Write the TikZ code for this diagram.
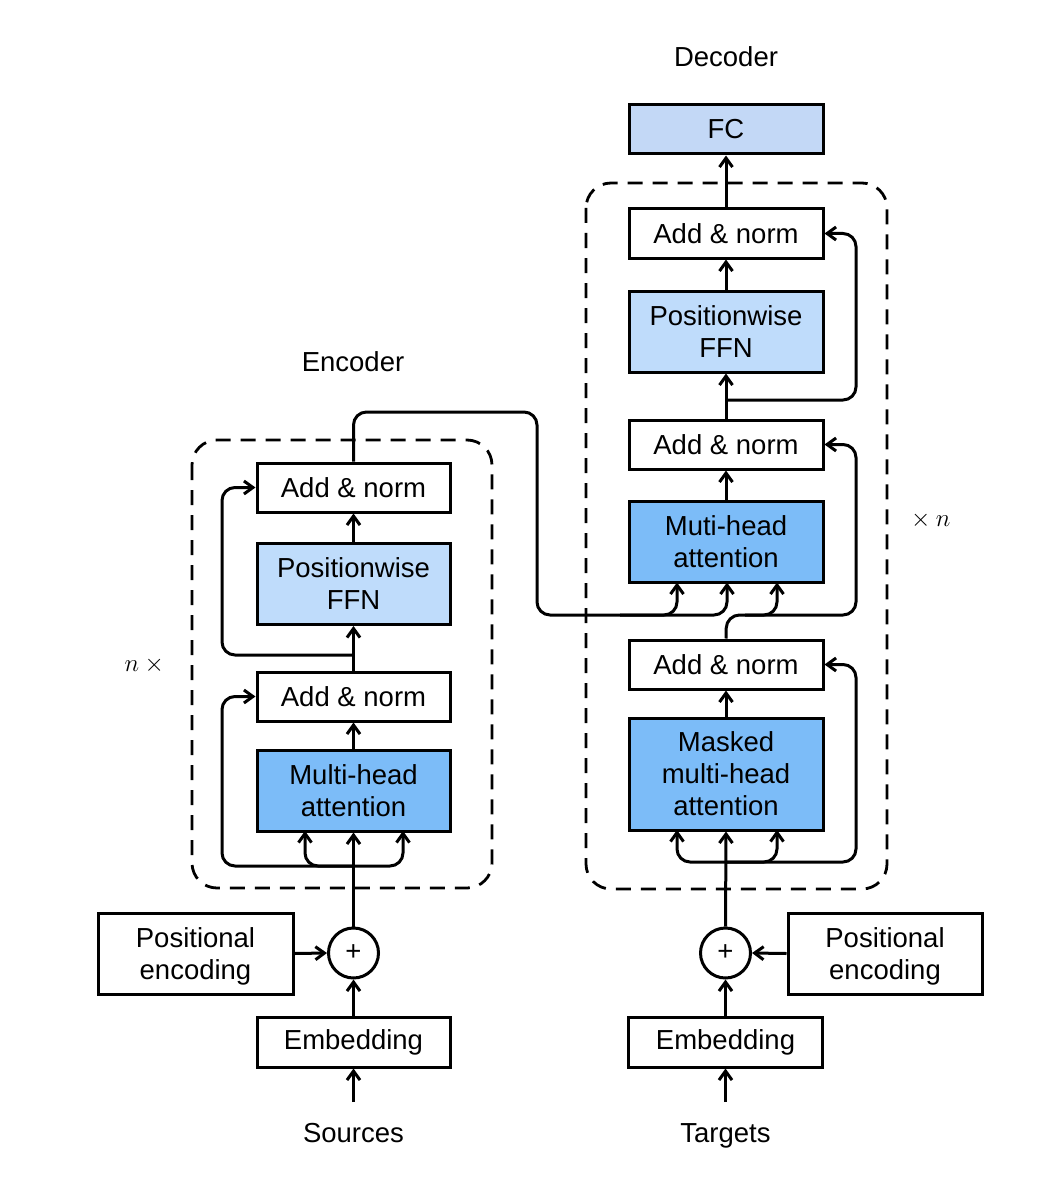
\documentclass[tikz,border=0pt]{standalone}
\usepackage{fontspec}
\setmainfont{Liberation Sans}
\usetikzlibrary{arrows.meta}
\definecolor{mhablue}{HTML}{7CBCF8}
\definecolor{ffnblue}{HTML}{BFDCFB}
\definecolor{fcblue}{HTML}{C3D8F6}
\begin{document}
\begin{tikzpicture}[x=1pt,y=-1pt,
  every node/.style={font=\fontsize{27.5}{32}\selectfont},
  blk/.style={draw,line width=3pt,minimum width=193pt,minimum height=49pt,inner sep=0pt,align=center},
  tall/.style={blk,minimum height=81pt},
  mha/.style={tall,fill=mhablue},
  ffn/.style={tall,fill=ffnblue},
  pe/.style={tall,text depth=0pt},
  plusc/.style={draw,circle,line width=3pt,minimum size=50pt,inner sep=0pt},
  lbl/.style={inner sep=0pt,text depth=0pt},
  mathlbl/.style={inner sep=0pt,font=\fontsize{26}{30}\selectfont},
  conn/.style={line width=3pt},
  arr/.style={conn,-{Straight Barb[length=9pt,width=13pt]}},
  rc/.style={rounded corners=13pt},
  dashbox/.style={draw,line width=2.8pt,dash pattern=on 15pt off 10pt,rounded corners=25pt}]
\useasboundingbox (0,0) rectangle (1060,1182);

% dashed groups
\draw[dashbox] (192,440) rectangle (492,888);
\draw[dashbox] (586,183) rectangle (887,889);

% ===== Encoder =====
\node[lbl] (enclbl) at (353,362) {Encoder};
\node[blk] (eAN2) at (353.5,487.5) {Add \& norm};
\node[ffn] (eFFN) at (353.5,584) {Positionwise\\FFN};
\node[blk] (eAN1) at (353.5,696.5) {Add \& norm};
\node[mha] (eMHA) at (353.5,790.5) {Multi-head\\attention};
\node[plusc] (eplus) at (353.5,953) {+};
\node[pe,minimum width=195pt] (ePE) at (195.5,953.5) {Positional\\encoding};
\node[blk,minimum height=50pt] (eEmb) at (353.5,1042) {Embedding};
\node[lbl] (src) at (353.5,1133) {Sources};
\node[mathlbl] (nx) at (147,665) {$n\times{}$};

\coordinate (eSrc) at (353.5,1102);
\coordinate (eSplit) at (353.5,866);
\coordinate (eQ) at (305,831);
\coordinate (eV) at (403,831);
\coordinate (eL1) at (222,866);
\coordinate (eL2) at (222,696.5);
\coordinate (eR1) at (353.5,655);
\coordinate (eR2) at (222,655);
\coordinate (eR3) at (222,487.5);
\coordinate (eO1) at (353.5,412);
\coordinate (eO2) at (537,412);
\coordinate (eO3) at (537,615);
\coordinate (eO4) at (620,615);
\coordinate (dK) at (677,582.5);
\coordinate (dV) at (727,582.5);
\coordinate (dQ) at (777,582.5);

\draw[arr] (eSrc) -- (eEmb.south);
\draw[arr] (eEmb.north) -- (eplus.south);
\draw[arr] (ePE.east) -- (eplus.west);
\draw[arr] (eplus.north) -- (eMHA.south);
\draw[arr,rc] (eSplit) -| (eQ);
\draw[arr,rc] (eSplit) -| (eV);
\draw[arr,rc] (eSplit) -- (eL1) -- (eL2) -- (eAN1.west);
\draw[arr] (eMHA.north) -- (eAN1.south);
\draw[arr] (eAN1.north) -- (eFFN.south);
\draw[arr,rc] (eR1) -- (eR2) -- (eR3) -- (eAN2.west);
\draw[arr] (eFFN.north) -- (eAN2.south);
\draw[conn,rc] (eAN2.north) -- (eO1) -- (eO2) -- (eO3) -- (eO4);
\draw[arr,rc] (eO4) -| (dK);
\draw[arr,rc] (eO4) -| (dV);

% ===== Decoder =====
\node[lbl] (declbl) at (726,57) {Decoder};
\node[blk,fill=fcblue,minimum width=194pt] (FC) at (726,129.5) {FC};
\node[blk,minimum width=194pt] (dAN3) at (726,233.5) {Add \& norm};
\node[ffn,minimum width=194pt] (dFFN) at (726,331.5) {Positionwise\\FFN};
\node[blk,minimum width=194pt] (dAN2) at (726,444.5) {Add \& norm};
\node[mha,minimum width=194pt] (dMHA) at (726,541.5) {Muti-head\\attention};
\node[blk,minimum width=194pt] (dAN1) at (726,664.5) {Add \& norm};
\node[mha,minimum width=194pt,minimum height=112pt] (dMMHA) at (726,774) {Masked\\multi-head\\attention};
\node[plusc] (dplus) at (725.5,953) {+};
\node[pe,minimum width=194pt] (dPE) at (885,953.5) {Positional\\encoding};
\node[blk,minimum width=194pt,minimum height=50pt] (dEmb) at (725.5,1042) {Embedding};
\node[lbl] (tgt) at (725.5,1133) {Targets};
\node[mathlbl] (xn) at (928,520) {${}\times n$};

\coordinate (dTgt) at (725.5,1102);
\coordinate (dSplit) at (725.5,862);
\coordinate (dMQ) at (677,830);
\coordinate (dMV) at (777,830);
\coordinate (dL1) at (856,862);
\coordinate (dL2) at (856,664.5);
\coordinate (dB1) at (726.5,615);
\coordinate (dB2) at (856,615);
\coordinate (dB3) at (856,444.5);
\coordinate (dBm) at (745,615);
\coordinate (dT1) at (726,400);
\coordinate (dT2) at (856,400);
\coordinate (dT3) at (856,233.5);

\draw[arr] (dTgt) -- (dEmb.south);
\draw[arr] (dEmb.north) -- (dplus.south);
\draw[arr] (dPE.west) -- (dplus.east);
\draw[arr] (dplus.north) -- (dMMHA.south);
\draw[arr,rc] (dSplit) -| (dMQ);
\draw[arr,rc] (dSplit) -| (dMV);
\draw[arr,rc] (dSplit) -- (dL1) -- (dL2) -- (dAN1.east);
\draw[arr] (dMMHA.north) -- (dAN1.south);
\draw[arr,rc] (dAN1.north) -- (dB1) -- (dB2) -- (dB3) -- (dAN2.east);
\draw[arr,rc] (dBm) -| (dQ);
\draw[arr] (dMHA.north) -- (dAN2.south);
\draw[arr] (dAN2.north) -- (dFFN.south);
\draw[arr,rc] (dT1) -- (dT2) -- (dT3) -- (dAN3.east);
\draw[arr] (dFFN.north) -- (dAN3.south);
\draw[arr] (dAN3.north) -- (FC.south);
\end{tikzpicture}
\end{document}
